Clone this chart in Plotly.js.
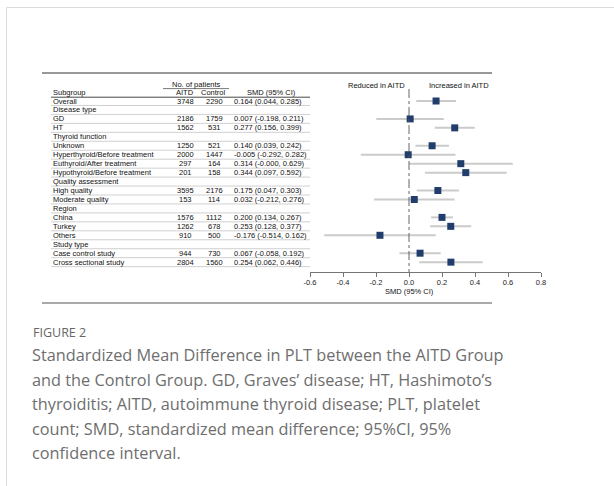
<!DOCTYPE html>
<html>
<head>
<meta charset="utf-8">
<script src="https://cdn.plot.ly/plotly-3.0.1.min.js"></script>
<style>html,body{margin:0;padding:0;background:#fff;}#chart{width:614px;height:486px;}</style>
</head>
<body>
<div id="chart"></div>
<script>
const subgroups = ['Overall','Disease type','GD','HT','Thyroid function','Unknown','Hyperthyroid/Before treatment','Euthyroid/After treatment','Hypothyroid/Before treatment','Quality assessment','High quality','Moderate quality','Region','China','Turkey','Others','Study type','Case control study','Cross sectional study'];
const aitd    = [3748,null,2186,1562,null,1250,2000,297,201,null,3595,153,null,1576,1262,910,null,944,2804];
const control = [2290,null,1759,531,null,521,1447,164,158,null,2176,114,null,1112,678,500,null,730,1560];
const smd     = [0.164,null,0.007,0.277,null,0.140,-0.005,0.314,0.344,null,0.175,0.032,null,0.200,0.253,-0.176,null,0.067,0.254];
const lower   = [0.044,null,-0.198,0.156,null,0.039,-0.292,-0,0.097,null,0.047,-0.212,null,0.134,0.128,-0.514,null,-0.058,0.062];
const upper   = [0.285,null,0.211,0.399,null,0.242,0.282,0.629,0.592,null,0.303,0.276,null,0.267,0.377,0.162,null,0.192,0.446];
const tickVals = [-0.6,-0.4,-0.2,0.0,0.2,0.4,0.6,0.8];
const tickText = ['-0.6','-0.4','-0.2','0.0','0.2','0.4','0.6','0.8'];
const captionLines = [
  'Standardized Mean Difference in PLT between the AITD Group',
  'and the Control Group. GD, Graves\u2019 disease; HT, Hashimoto\u2019s',
  'thyroiditis; AITD, autoimmune thyroid disease; PLT, platelet',
  'count; SMD, standardized mean difference; 95%CI, 95%',
  'confidence interval.'
];

const W = 614, H = 486;
const px = x => x / W;
const py = y => 1 - y / H;
function fmt(v){ if (Object.is(v,-0)) return '-0.000'; return v.toFixed(3); }

const rows = subgroups.map((s,i)=>i+1);
const yTopVal = -1, yBotVal = 20.1;
const yTopPx = 83.1, yBotPx = 272;
const F = "'Liberation Sans', Arial, Helvetica, sans-serif";
const tf = {family:F, size:7.5, color:'#111'};
const X0 = 51, X1 = 310;

const annotations = [];
const shapes = [];
const A = o => Object.assign({showarrow:false, yanchor:'middle', borderpad:0}, o);

// header
const hy = py(92);
annotations.push(A({xref:'paper',yref:'paper',x:px(52),y:hy,text:'Subgroup',xanchor:'left',font:tf}));
annotations.push(A({xref:'paper',yref:'paper',x:px(185),y:hy,text:'AITD',xanchor:'center',font:tf}));
annotations.push(A({xref:'paper',yref:'paper',x:px(213.5),y:hy,text:'Control',xanchor:'center',font:tf}));
annotations.push(A({xref:'paper',yref:'paper',x:px(271),y:hy,text:'SMD (95% CI)',xanchor:'center',font:tf}));
annotations.push(A({xref:'paper',yref:'paper',x:px(197),y:py(84),text:'No. of patients',xanchor:'center',font:tf}));
annotations.push(A({xref:'x',yref:'paper',x:-0.02,y:py(85),text:'Reduced in AITD',xanchor:'right',font:tf}));
annotations.push(A({xref:'x',yref:'paper',x:0.115,y:py(85),text:'Increased in AITD',xanchor:'left',font:tf}));
annotations.push(A({xref:'x',yref:'paper',x:0,y:py(291),text:'SMD (95% CI)',xanchor:'center',font:tf}));

subgroups.forEach((s,i)=>{
  const r = rows[i];
  annotations.push(A({xref:'paper',yref:'y',x:px(52),y:r,text:s,xanchor:'left',font:tf}));
  if (aitd[i]!==null){
    annotations.push(A({xref:'paper',yref:'y',x:px(185),y:r,text:String(aitd[i]),xanchor:'center',font:tf}));
    annotations.push(A({xref:'paper',yref:'y',x:px(214),y:r,text:String(control[i]),xanchor:'center',font:tf}));
    annotations.push(A({xref:'paper',yref:'y',x:px(233),y:r,text:fmt(smd[i])+' ('+fmt(lower[i])+', '+fmt(upper[i])+')',xanchor:'left',font:tf}));
  }
  shapes.push({type:'line',xref:'paper',yref:'y',x0:px(X0),x1:px(X1),y0:r+0.5,y1:r+0.5,line:{color:'#c4c4c4',width:0.8}});
});

// header lines
shapes.push({type:'line',xref:'paper',yref:'paper',x0:px(X0),x1:px(X1),y0:py(97.2),y1:py(97.2),line:{color:'#333',width:0.9}});
shapes.push({type:'line',xref:'paper',yref:'paper',x0:px(163),x1:px(229),y0:py(88.6),y1:py(88.6),line:{color:'#555',width:0.8}});
// zero line
shapes.push({type:'line',xref:'x',yref:'paper',x0:0,x1:0,y0:py(89),y1:py(272),line:{color:'#555',width:0.9,dash:'dashdot'}});
// frame lines
shapes.push({type:'line',xref:'paper',yref:'paper',x0:px(42),x1:px(492),y0:py(73),y1:py(73),line:{color:'#333',width:1.2}});
shapes.push({type:'line',xref:'paper',yref:'paper',x0:px(42),x1:px(492),y0:py(303),y1:py(303),line:{color:'#555',width:1.2}});
shapes.push({type:'line',xref:'paper',yref:'paper',x0:px(6.5),x1:1.01,y0:py(7.5),y1:py(7.5),line:{color:'#dcdcdc',width:1}});
shapes.push({type:'line',xref:'paper',yref:'paper',x0:px(6.5),x1:px(6.5),y0:py(7.5),y1:-0.01,line:{color:'#dcdcdc',width:1}});

// caption
annotations.push(A({xref:'paper',yref:'paper',x:px(32),y:py(332),text:'FIGURE 2',xanchor:'left',font:{family:'Open Sans, sans-serif',size:12.5,color:'#666'}}));
const capY = [355,379.5,404,428.5,453];
captionLines.forEach((t,i)=>{
  annotations.push(A({xref:'paper',yref:'paper',x:px(31),y:py(capY[i]),text:t,xanchor:'left',font:{family:'Open Sans, sans-serif',size:16.3,color:'#6e6e6e'}}));
});

const xIdx = [], yIdx = [], ep = [], em = [];
smd.forEach((v,i)=>{ if (v!==null){ xIdx.push(v); yIdx.push(rows[i]); ep.push(upper[i]-v); em.push(v-lower[i]); } });

const trace = {
  type:'scatter', mode:'markers', x:xIdx, y:yIdx,
  marker:{symbol:'square', size:7, color:'#203d6c'},
  error_x:{type:'data', symmetric:false, array:ep, arrayminus:em, thickness:2, width:0, color:'#cbcbcb'},
  hoverinfo:'skip', cliponaxis:false
};

const layout = {
  width:W, height:H, margin:{l:0,r:0,t:0,b:0},
  paper_bgcolor:'#fff', plot_bgcolor:'rgba(0,0,0,0)',
  showlegend:false,
  xaxis:{domain:[px(310),px(541)], range:[-0.6,0.8], showgrid:false, zeroline:false, showline:true, linecolor:'#666', linewidth:0.9,
         ticks:'outside', ticklen:4, tickcolor:'#666', tickwidth:0.9, tickvals:tickVals, ticktext:tickText, ticklabelstandoff:-1,
         tickfont:{family:F,size:7.5,color:'#222'}, fixedrange:true, anchor:'y'},
  yaxis:{domain:[py(yBotPx),py(yTopPx)], range:[yBotVal,yTopVal], visible:false, fixedrange:true},
  annotations, shapes
};

Plotly.newPlot('chart',[trace],layout,{displayModeBar:false,staticPlot:true});
</script>
</body>
</html>
